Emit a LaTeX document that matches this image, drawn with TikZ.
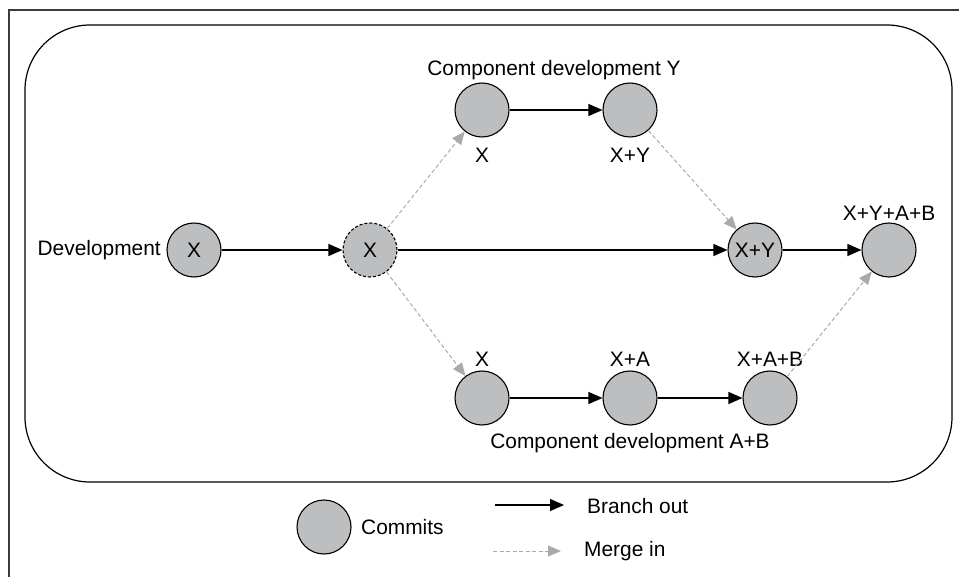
\documentclass[tikz,border=0pt]{standalone}
\usepackage{fontspec}
\setmainfont{Liberation Sans}
\usetikzlibrary{arrows.meta}
\definecolor{commitfill}{RGB}{189,190,192}
\definecolor{mergegray}{RGB}{170,170,172}
\definecolor{framegray}{RGB}{60,60,60}
\tikzset{
  txt/.style={font=\fontsize{20.9pt}{25pt}\selectfont},
  commit/.style={circle, draw=black, line width=1.1pt, fill=commitfill, minimum size=54pt, inner sep=0pt, txt},
  splitcommit/.style={commit, dashed, dash pattern=on 3pt off 2pt},
  lbl/.style={txt, inner sep=0pt},
  branch/.style={draw=black, line width=1.2pt, -{Triangle[length=14pt,width=12pt]}},
  merge/.style={draw=mergegray, line width=1pt, dash pattern=on 4pt off 2.5pt, -{Triangle[length=13pt,width=11pt,fill=mergegray]}},
}
\begin{document}
\begin{tikzpicture}[x=1pt,y=-1pt]
\useasboundingbox (0,0) rectangle (959,577);
% outer frame (top and left)
\draw[framegray, line width=1.3pt] (9,577) -- (9,10) -- (959,10);
% rounded container
\draw[black, line width=1.2pt, rounded corners=65pt] (25,25) rectangle (952,482);

% commits
\node[commit] (dev) at (194,250) {X};
\node[splitcommit] (split) at (370,250) {X};
\node[commit] (y1) at (482,110) {};
\node[commit] (y2) at (630,110) {};
\node[commit] (mxy) at (755,250) {X+Y};
\node[commit] (fin) at (889,250) {};
\node[commit] (a0) at (482,398) {};
\node[commit] (a1) at (630,398) {};
\node[commit] (a2) at (770,398) {};

% labels
\node[lbl, anchor=east] (devlbl) at (161,250) {Development};
\node[lbl] (ylbl) at (554,70) {Component development Y};
\node[lbl] (y1lbl) at (482,155) {X};
\node[lbl] (y2lbl) at (630,155) {X+Y};
\node[lbl] (finlbl) at (889,213) {X+Y+A+B};
\node[lbl] (a0lbl) at (482,359) {X};
\node[lbl] (a1lbl) at (630,359) {X+A};
\node[lbl] (a2lbl) at (770,359) {X+A+B};
\node[lbl] (albl) at (630,443) {Component development A+B};

% branch-out connectors
\draw[branch] (dev) -- (split);
\draw[branch] (split) -- (mxy);
\draw[branch] (y1) -- (y2);
\draw[branch] (mxy) -- (fin);
\draw[branch] (a0) -- (a1);
\draw[branch] (a1) -- (a2);

% merge-in connectors
\draw[merge] (split) -- (y1);
\draw[merge] (split) -- (a0);
\draw[merge] (y2) -- (mxy);
\draw[merge] (a2) -- (fin);

% legend
\node[commit] (legc) at (324,527) {};
\node[lbl, anchor=west] (legclbl) at (361,527) {Commits};
\coordinate (bo1) at (495,505);
\coordinate (bo2) at (564,505);
\draw[branch] (bo1) -- (bo2);
\node[lbl, anchor=west] (bolbl) at (587,506) {Branch out};
\coordinate (mi1) at (493,551);
\coordinate (mi2) at (561,551);
\draw[merge] (mi1) -- (mi2);
\node[lbl, anchor=west] (milbl) at (584,551) {Merge in};
\end{tikzpicture}
\end{document}
